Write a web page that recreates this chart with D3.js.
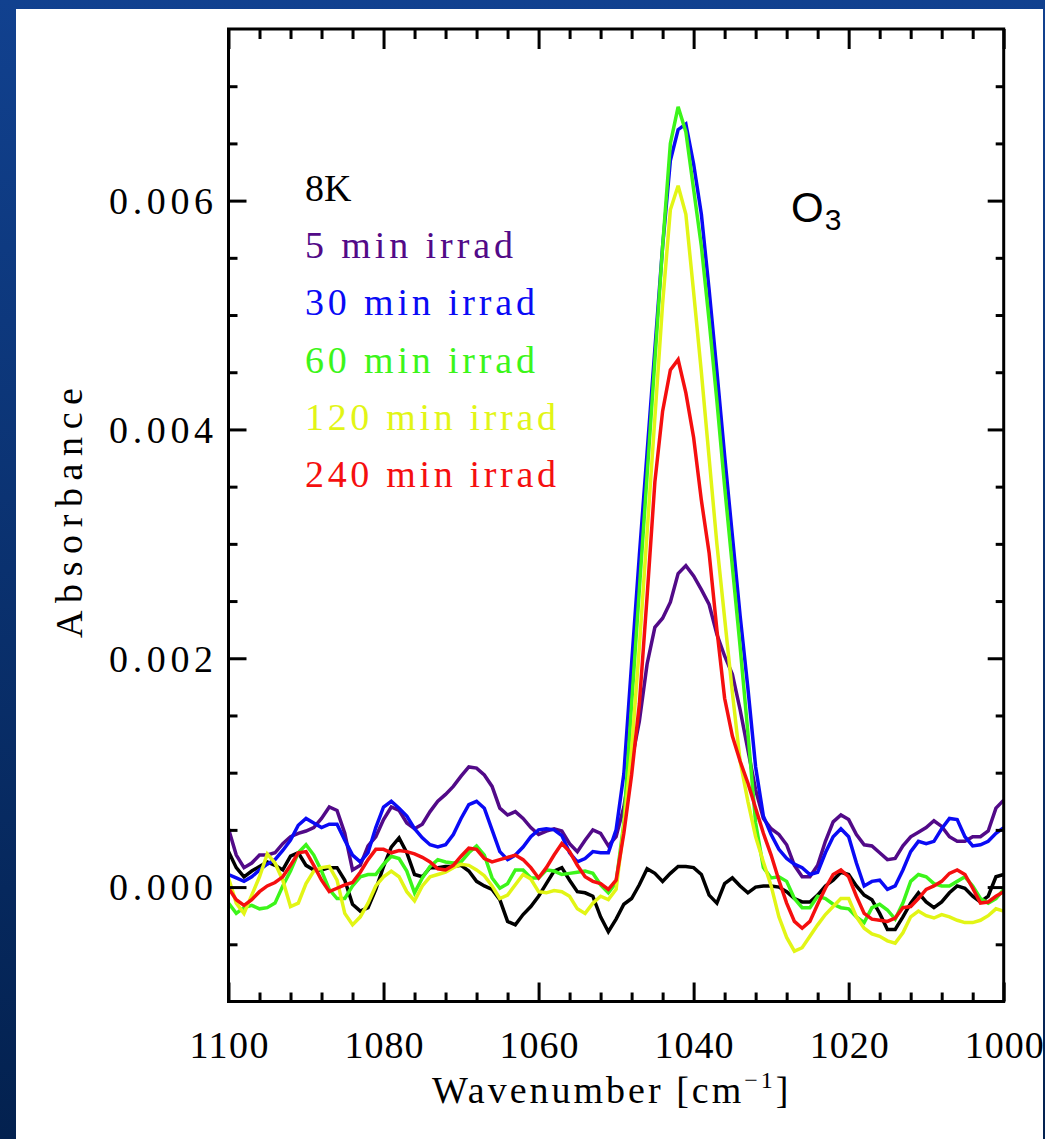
<!DOCTYPE html>
<html>
<head>
<meta charset="utf-8">
<script src="https://cdn.jsdelivr.net/npm/d3@7"></script>
<style>
  html, body { margin: 0; padding: 0; background: #fff; }
  svg { display: block; }
</style>
</head>
<body>
<svg id="chart" width="1045" height="1139"></svg>
<script>
// Spectral grid: 1100 -> 1000 cm^-1, one point per wavenumber
const wavenumbers = d3.range(1100, 999, -1);

// Absorbance values are listed in units of 1e-4
const UNIT = 1e-4;

const abs8K = [
  3.1, 1.7, 0.9, 1.4, 1.8, 2.2, 1.9, 1.5, 2.7, 3.0,
  1.9, 1.5, 1.5, 1.7, 1.7, 0.6, -1.5, -2.1, -1.8, -0.2,
  1.8, 3.5, 4.3, 3.0, 1.1, 0.9, 1.7, 1.7, 1.8, 1.8,
  1.9, 1.4, 0.5, 0.1, -0.2, -1.1, -3.0, -3.3, -2.4, -1.7,
  -0.8, 0.3, 1.4, 1.7, 0.6, -0.4, -0.5, -0.8, -2.6, -3.9,
  -2.8,
  -1.5, -1.0, 0.2, 1.6, 1.2, 0.5, 1.2, 1.8, 1.8,
  1.7, 1.1, -0.7, -1.4, 0.3, 0.8, 0.1, -0.5, 0.0, 0.1,
  0.1, 0.0, -0.4, -1.0, -1.3, -1.3, -0.7, 0.1, 0.6, 1.3,
  1.1, 0.1, -0.7, -1.1, -2.3, -3.7, -3.7, -2.6, -1.4, -0.5,
  -1.3, -1.8, -1.3, -0.5, 0.1, -0.1, -0.8, -1.3, -0.8, 0.9,
  1.1
];

const abs5min = [
  5.1, 2.8, 1.7, 2.1, 2.8, 2.8, 3.0, 3.8, 4.4, 4.7,
  4.9, 5.2, 6.0, 7.0, 6.7, 4.7, 1.5, 1.9, 3.6, 4.4,
  5.9, 7.0, 6.7, 5.6, 5.1, 5.5, 6.6, 7.5, 8.1, 8.8,
  9.7, 10.5, 10.4, 9.8, 8.8, 6.9, 6.3, 6.6, 6.0, 5.2,
  4.6, 4.9, 5.1, 4.9, 3.8, 3.1, 4.1, 5.0, 4.7, 3.6,
  4.4,
  7.0, 11.0, 14.5, 19.5, 22.7, 23.5, 24.9, 27.4, 28.1,
  27.2, 26.0, 24.7, 22.1, 20.2, 18.6, 15.5, 12.0, 8.5, 6.0,
  5.1, 4.6, 3.7, 1.9, 0.9, 0.9, 1.9, 4.0, 5.7, 6.3,
  5.9, 4.6, 3.7, 3.6, 3.0, 2.4, 2.5, 3.6, 4.4, 4.8,
  5.2, 5.8, 5.3, 4.4, 4.0, 4.0, 4.4, 4.4, 4.9, 6.9,
  7.6
];

const abs30min = [
  1.1, 0.8, 0.5, 0.9, 1.5, 2.0, 2.4, 3.2, 4.1, 5.4,
  6.0, 5.6, 5.2, 5.5, 5.5, 4.1, 2.8, 2.2, 3.0, 5.2,
  7.0, 7.5, 6.9, 6.2, 5.1, 4.3, 3.7, 3.5, 3.7, 4.6,
  6.0, 7.2, 7.5, 6.9, 5.0, 3.1, 2.4, 2.8, 3.5, 4.4,
  5.0, 5.1, 5.0, 4.5, 3.0, 2.2, 2.5, 3.1, 3.0, 3.0,
  5.0,
  9.9, 19.5, 29.0, 38.0, 47.0, 56.0, 63.5, 66.2, 66.7,
  63.2, 58.8, 52.2, 45.1, 37.7, 30.7, 23.7, 17.4, 10.5, 6.2,
  4.6, 3.3, 2.5, 2.0, 1.7, 1.1, 1.3, 3.0, 4.4, 5.1,
  4.4, 2.1, 0.1, 0.5, 0.6, -0.2, 0.1, 1.5, 3.1, 4.0,
  3.8, 4.0, 5.1, 6.0, 5.9, 4.4, 3.6, 3.7, 4.0, 4.7,
  5.2
];

const abs60min = [
  -1.4, -2.3, -1.8, -1.6, -1.9, -1.8, -1.4, 0.1, 1.4, 3.0,
  3.7, 2.8, 1.4, -0.2, -1.0, -1.0, 0.1, 0.9, 1.1, 1.1,
  2.0, 2.7, 2.5, 1.4, -0.5, 0.8, 1.8, 2.4, 2.2, 2.1,
  2.2, 3.0, 3.6, 2.8, 0.8, -0.1, 0.3, 1.5, 1.5, 0.8,
  0.8, 1.5, 1.4, 1.1, 1.2, 1.3, 1.4, 1.2, 0.2, -0.5,
  0.4,
  5.6, 16.0, 26.0, 36.0, 46.0, 56.0, 65.0, 68.2, 66.0,
  61.0, 56.0, 49.5, 42.5, 35.0, 28.0, 21.0, 13.5, 5.6, 1.7,
  0.8, 0.9, 0.5, -1.0, -1.8, -1.8, -0.8, -1.0, -1.5, -1.8,
  -1.9, -2.6, -3.1, -1.8, -1.5, -2.0, -2.8, -1.4, 0.5, 1.1,
  0.9, 0.3, 0.1, 0.1, 0.5, 0.9, 0.1, -1.0, -1.4, -1.0,
  -0.2
];

const abs120min = [
  0.8, -1.4, -2.3, -0.7, 0.9, 2.9, 2.1, 0.6, -1.7, -1.4,
  0.3, 1.4, 1.7, 1.8, 0.6, -2.3, -3.3, -2.6, -1.4, 0.1,
  0.9, 1.4, 0.9, -0.4, -1.2, 0.1, 0.9, 1.1, 1.3, 1.7,
  2.0, 1.9, 1.5, 1.0, 0.1, -1.0, -0.7, 0.2, 1.1, 0.7,
  -0.4, -0.5, -0.3, -0.4, -0.8, -1.9, -2.3, -1.4, -0.8, -1.1,
  -0.2,
  5.3, 12.0, 21.0, 31.0, 41.0, 51.0, 59.2, 61.3, 58.8,
  52.0, 45.0, 37.5, 30.0, 23.5, 17.0, 11.0, 7.5, 4.4, 2.2,
  0.1, -2.6, -4.4, -5.6, -5.3, -4.3, -3.3, -2.4, -1.7, -1.0,
  -1.0, -2.6, -3.6, -4.1, -4.3, -4.7, -4.9, -4.0, -2.6, -2.1,
  -2.5, -2.7, -2.4, -2.6, -2.9, -3.1, -3.1, -2.9, -2.5, -1.9,
  -2.1
];

const abs240min = [
  -0.1, -1.1, -1.6, -1.1, -0.4, 0.1, 0.4, 0.9, 1.9, 3.0,
  3.1, 1.9, 0.6, -0.4, -0.1, 0.2, 0.4, 1.3, 2.4, 3.3,
  3.3, 3.0, 3.2, 3.1, 2.9, 2.6, 2.2, 1.6, 1.5, 1.9,
  2.7, 3.4, 3.3, 2.5, 2.2, 2.4, 2.6, 2.8, 2.4, 1.7,
  0.8, 1.7, 2.8, 3.8, 3.1, 1.9, 0.9, 0.5, 0.3, -0.2,
  0.6,
  4.7, 9.8, 16.0, 25.4, 35.4, 41.6, 45.2, 46.1, 43.2,
  39.3, 33.8, 29.2, 22.5, 16.5, 13.2, 11.0, 9.1, 6.9, 4.7,
  2.8, 0.6, -1.4, -3.0, -3.6, -3.0, -1.5, -0.1, 1.1, 1.5,
  0.9, -0.8, -2.3, -2.8, -2.9, -3.0, -2.7, -1.8, -1.7, -1.0,
  -0.2, 0.1, 0.5, 1.2, 1.5, 1.1, -0.1, -1.4, -1.3, -0.8,
  -0.4
];

const seriesLabels = ["8K", "5 min irrad", "30 min irrad", "60 min irrad", "120 min irrad", "240 min irrad"];
const seriesColors = ["#000000", "#520a88", "#0a0af5", "#3cf51a", "#e2f516", "#f50f0f"];
const seriesValues = [abs8K, abs5min, abs30min, abs60min, abs120min, abs240min];

const xMajorTicks = [1100, 1080, 1060, 1040, 1020, 1000];
const xTickLabels = ["1100", "1080", "1060", "1040", "1020", "1000"];
const yMajorTicks = [0, 0.002, 0.004, 0.006];
const yTickLabels = ["0.000", "0.002", "0.004", "0.006"];

const xMinorTicks = d3.range(1096, 1000, -4).filter(v => v % 20 !== 0);
const yMinorTicks = [-0.0005, 0.0005, 0.001, 0.0015, 0.0025, 0.003, 0.0035, 0.0045, 0.005, 0.0055, 0.0065, 0.007];

const W = 1045, H = 1139;
const plot = { left: 228.5, right: 1003.7, top: 29, bottom: 1001.5 };

const svg = d3.select("#chart");
const defs = svg.append("defs");

// slide-style backdrop: blue frame behind a white panel
const grad = defs.append("linearGradient")
  .attr("id", "frameGrad").attr("x1", 0).attr("y1", 0).attr("x2", 0).attr("y2", 1);
grad.append("stop").attr("offset", "0%").attr("stop-color", "#11418f");
grad.append("stop").attr("offset", "100%").attr("stop-color", "#03214f");
svg.append("rect").attr("width", W).attr("height", H).attr("fill", "url(#frameGrad)");
svg.append("rect").attr("x", 16).attr("y", 9).attr("width", 1027).attr("height", H - 9).attr("fill", "#ffffff");

defs.append("clipPath").attr("id", "plotClip")
  .append("rect")
  .attr("x", plot.left).attr("y", plot.top)
  .attr("width", plot.right - plot.left).attr("height", plot.bottom - plot.top);

const x = d3.scaleLinear().domain([1100, 1000]).range([plot.left, plot.right]);
const y = d3.scaleLinear().domain([-0.001, 0.0075]).range([plot.bottom, plot.top]);

// spectra
const line = d3.line()
  .x((d, i) => x(wavenumbers[i]))
  .y(d => y(d * UNIT));

svg.append("g")
  .attr("clip-path", "url(#plotClip)")
  .selectAll("path")
  .data(seriesValues)
  .join("path")
  .attr("d", line)
  .attr("fill", "none")
  .attr("stroke", (d, i) => seriesColors[i])
  .attr("stroke-width", 3.5)
  .attr("stroke-linejoin", "miter")
  .attr("stroke-miterlimit", 3);

// frame
svg.append("rect")
  .attr("x", plot.left).attr("y", plot.top)
  .attr("width", plot.right - plot.left).attr("height", plot.bottom - plot.top)
  .attr("fill", "none").attr("stroke", "#000").attr("stroke-width", 3);

function tickLayer(axis, tx, ty) {
  const g = svg.append("g").attr("transform", `translate(${tx},${ty})`).call(axis);
  g.select(".domain").remove();
  g.selectAll(".tick line").attr("stroke", "#000").attr("stroke-width", 3);
  return g;
}

// inward ticks on all four sides
tickLayer(d3.axisBottom(x).tickValues(xMinorTicks).tickSize(-9).tickFormat(""), 0, plot.bottom);
tickLayer(d3.axisTop(x).tickValues(xMinorTicks).tickSize(-10).tickFormat(""), 0, plot.top);
tickLayer(d3.axisTop(x).tickValues(xMajorTicks).tickSize(-20).tickFormat(""), 0, plot.top);
tickLayer(d3.axisLeft(y).tickValues(yMinorTicks).tickSize(-9).tickFormat(""), plot.left, 0);
tickLayer(d3.axisRight(y).tickValues(yMinorTicks).tickSize(-8).tickFormat(""), plot.right, 0);
tickLayer(d3.axisRight(y).tickValues(yMajorTicks).tickSize(-16).tickFormat(""), plot.right, 0);

const serif = "'Liberation Serif', 'DejaVu Serif', serif";

const xAxis = tickLayer(
  d3.axisBottom(x).tickValues(xMajorTicks).tickSize(-19)
    .tickFormat((d, i) => xTickLabels[i]),
  0, plot.bottom);
xAxis.selectAll(".tick text")
  .attr("y", 56.5).attr("dy", 0)
  .attr("fill", "#000")
  .attr("font-family", serif).attr("font-size", 38)
  .attr("textLength", 79).attr("lengthAdjust", "spacing");

const yAxis = tickLayer(
  d3.axisLeft(y).tickValues(yMajorTicks).tickSize(-18)
    .tickFormat((d, i) => yTickLabels[i]),
  plot.left, 0);
yAxis.selectAll(".tick text")
  .attr("x", 213 - plot.left).attr("dy", 12.8)
  .attr("fill", "#000")
  .attr("font-family", serif).attr("font-size", 38)
  .attr("textLength", 104).attr("lengthAdjust", "spacing");

// axis titles
svg.append("text")
  .attr("transform", "translate(82,513) rotate(-90)")
  .attr("text-anchor", "middle")
  .attr("font-family", serif).attr("font-size", 38)
  .attr("textLength", 250).attr("lengthAdjust", "spacing")
  .text("Absorbance");

const xTitle = svg.append("text")
  .attr("x", 432).attr("y", 1103)
  .attr("font-family", serif).attr("font-size", 38)
  .attr("letter-spacing", 3);
xTitle.append("tspan").text("Wavenumber [cm");
xTitle.append("tspan").attr("font-size", 24).attr("dy", -15).text("\u22121");
xTitle.append("tspan").attr("dy", 15).text("]");

// legend (first entry keeps its natural width)
const legendWidths = [null, 208, 230, 230, 251, 251];
svg.append("g")
  .selectAll("text")
  .data(seriesLabels)
  .join("text")
  .attr("x", 305)
  .attr("y", (d, i) => 201 + i * 57.2)
  .attr("fill", (d, i) => seriesColors[i])
  .attr("font-family", serif).attr("font-size", 38)
  .attr("textLength", (d, i) => legendWidths[i])
  .attr("lengthAdjust", (d, i) => legendWidths[i] ? "spacing" : null)
  .text(d => d);

// molecule label
const mol = svg.append("text")
  .attr("x", 791).attr("y", 222)
  .attr("font-family", "'Liberation Sans', Arial, sans-serif")
  .attr("font-size", 42)
  .attr("fill", "#000");
mol.append("tspan").text("O");
mol.append("tspan").attr("font-size", 30).attr("dx", 1).attr("dy", 8).text("3");
</script>
</body>
</html>
